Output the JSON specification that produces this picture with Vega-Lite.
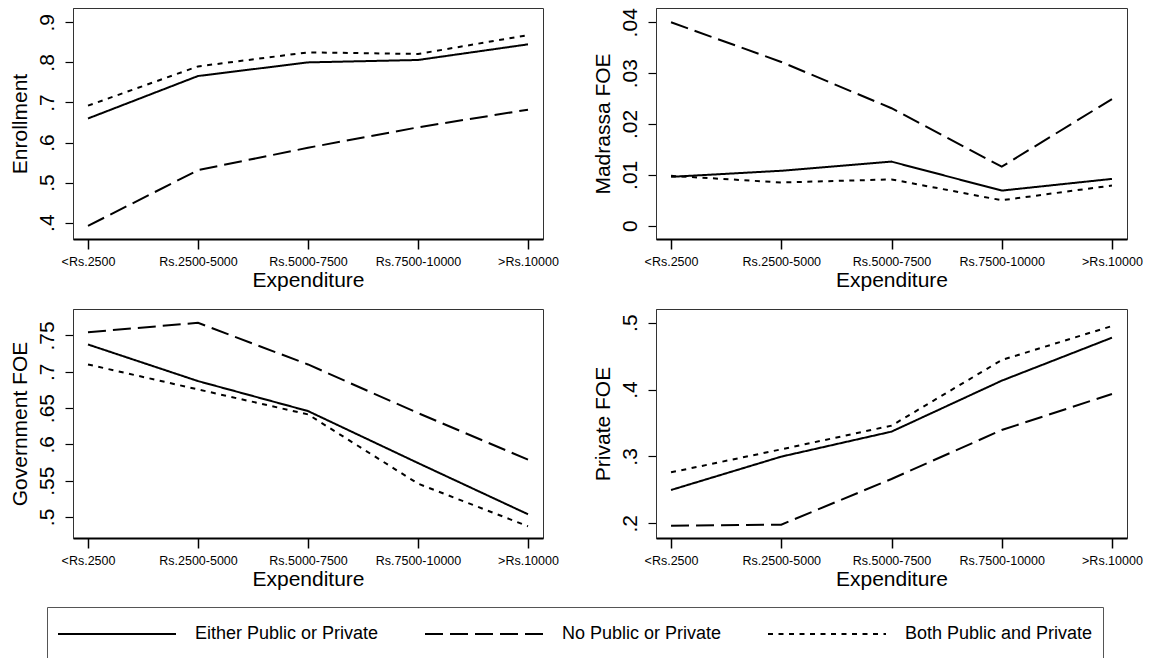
{
  "$schema": "https://vega.github.io/schema/vega-lite/v6.json",
  "background": "white",
  "padding": {"left": 8, "top": 7, "right": 5, "bottom": 0},
  "config": {
    "font": "Liberation Sans",
    "view": {"stroke": "#333333", "strokeWidth": 1},
    "axisX": {
      "labelFont": "Liberation Sans", "labelFontSize": 12.5, "labelColor": "black", "labelAngle": 0,
      "tickSize": 10, "tickWidth": 1.5, "tickColor": "black",
      "domainColor": "black", "domainWidth": 2,
      "labelPadding": 6, "titlePadding": 2,
      "titleFont": "Liberation Sans", "titleFontSize": 21, "titleFontWeight": "normal", "titleColor": "black",
      "grid": false
    },
    "axisY": {
      "labelFont": "Liberation Sans", "labelFontSize": 21, "labelColor": "black", "labelAngle": 270,
      "tickSize": 8, "tickWidth": 1.2, "tickColor": "black",
      "domainColor": "#333333", "domainWidth": 1,
      "labelPadding": 8, "titlePadding": 6,
      "titleFont": "Liberation Sans", "titleFontSize": 21, "titleFontWeight": "normal", "titleColor": "black",
      "grid": false
    }
  },
  "data": {"values": [
    {"m": "enr", "exp": "<Rs.2500", "g": "Either Public or Private", "v": 0.660},
    {"m": "enr", "exp": "Rs.2500-5000", "g": "Either Public or Private", "v": 0.766},
    {"m": "enr", "exp": "Rs.5000-7500", "g": "Either Public or Private", "v": 0.800},
    {"m": "enr", "exp": "Rs.7500-10000", "g": "Either Public or Private", "v": 0.806},
    {"m": "enr", "exp": ">Rs.10000", "g": "Either Public or Private", "v": 0.845},
    {"m": "enr", "exp": "<Rs.2500", "g": "No Public or Private", "v": 0.392},
    {"m": "enr", "exp": "Rs.2500-5000", "g": "No Public or Private", "v": 0.531},
    {"m": "enr", "exp": "Rs.5000-7500", "g": "No Public or Private", "v": 0.587},
    {"m": "enr", "exp": "Rs.7500-10000", "g": "No Public or Private", "v": 0.638},
    {"m": "enr", "exp": ">Rs.10000", "g": "No Public or Private", "v": 0.682},
    {"m": "enr", "exp": "<Rs.2500", "g": "Both Public and Private", "v": 0.692},
    {"m": "enr", "exp": "Rs.2500-5000", "g": "Both Public and Private", "v": 0.790},
    {"m": "enr", "exp": "Rs.5000-7500", "g": "Both Public and Private", "v": 0.825},
    {"m": "enr", "exp": "Rs.7500-10000", "g": "Both Public and Private", "v": 0.821},
    {"m": "enr", "exp": ">Rs.10000", "g": "Both Public and Private", "v": 0.868},

    {"m": "mad", "exp": "<Rs.2500", "g": "Either Public or Private", "v": 0.0096},
    {"m": "mad", "exp": "Rs.2500-5000", "g": "Either Public or Private", "v": 0.0108},
    {"m": "mad", "exp": "Rs.5000-7500", "g": "Either Public or Private", "v": 0.0126},
    {"m": "mad", "exp": "Rs.7500-10000", "g": "Either Public or Private", "v": 0.0069},
    {"m": "mad", "exp": ">Rs.10000", "g": "Either Public or Private", "v": 0.0092},
    {"m": "mad", "exp": "<Rs.2500", "g": "No Public or Private", "v": 0.0400},
    {"m": "mad", "exp": "Rs.2500-5000", "g": "No Public or Private", "v": 0.0322},
    {"m": "mad", "exp": "Rs.5000-7500", "g": "No Public or Private", "v": 0.0231},
    {"m": "mad", "exp": "Rs.7500-10000", "g": "No Public or Private", "v": 0.0116},
    {"m": "mad", "exp": ">Rs.10000", "g": "No Public or Private", "v": 0.0249},
    {"m": "mad", "exp": "<Rs.2500", "g": "Both Public and Private", "v": 0.0098},
    {"m": "mad", "exp": "Rs.2500-5000", "g": "Both Public and Private", "v": 0.0085},
    {"m": "mad", "exp": "Rs.5000-7500", "g": "Both Public and Private", "v": 0.0091},
    {"m": "mad", "exp": "Rs.7500-10000", "g": "Both Public and Private", "v": 0.0050},
    {"m": "mad", "exp": ">Rs.10000", "g": "Both Public and Private", "v": 0.0079},

    {"m": "gov", "exp": "<Rs.2500", "g": "Either Public or Private", "v": 0.7376},
    {"m": "gov", "exp": "Rs.2500-5000", "g": "Either Public or Private", "v": 0.6872},
    {"m": "gov", "exp": "Rs.5000-7500", "g": "Either Public or Private", "v": 0.6459},
    {"m": "gov", "exp": "Rs.7500-10000", "g": "Either Public or Private", "v": 0.5743},
    {"m": "gov", "exp": ">Rs.10000", "g": "Either Public or Private", "v": 0.5037},
    {"m": "gov", "exp": "<Rs.2500", "g": "No Public or Private", "v": 0.7546},
    {"m": "gov", "exp": "Rs.2500-5000", "g": "No Public or Private", "v": 0.7674},
    {"m": "gov", "exp": "Rs.5000-7500", "g": "No Public or Private", "v": 0.7101},
    {"m": "gov", "exp": "Rs.7500-10000", "g": "No Public or Private", "v": 0.6431},
    {"m": "gov", "exp": ">Rs.10000", "g": "No Public or Private", "v": 0.5789},
    {"m": "gov", "exp": "<Rs.2500", "g": "Both Public and Private", "v": 0.7101},
    {"m": "gov", "exp": "Rs.2500-5000", "g": "Both Public and Private", "v": 0.6757},
    {"m": "gov", "exp": "Rs.5000-7500", "g": "Both Public and Private", "v": 0.6413},
    {"m": "gov", "exp": "Rs.7500-10000", "g": "Both Public and Private", "v": 0.5459},
    {"m": "gov", "exp": ">Rs.10000", "g": "Both Public and Private", "v": 0.4872},

    {"m": "pri", "exp": "<Rs.2500", "g": "Either Public or Private", "v": 0.2498},
    {"m": "pri", "exp": "Rs.2500-5000", "g": "Either Public or Private", "v": 0.2997},
    {"m": "pri", "exp": "Rs.5000-7500", "g": "Either Public or Private", "v": 0.3371},
    {"m": "pri", "exp": "Rs.7500-10000", "g": "Either Public or Private", "v": 0.4133},
    {"m": "pri", "exp": ">Rs.10000", "g": "Either Public or Private", "v": 0.4776},
    {"m": "pri", "exp": "<Rs.2500", "g": "No Public or Private", "v": 0.1965},
    {"m": "pri", "exp": "Rs.2500-5000", "g": "No Public or Private", "v": 0.1980},
    {"m": "pri", "exp": "Rs.5000-7500", "g": "No Public or Private", "v": 0.2663},
    {"m": "pri", "exp": "Rs.7500-10000", "g": "No Public or Private", "v": 0.3395},
    {"m": "pri", "exp": ">Rs.10000", "g": "No Public or Private", "v": 0.3934},
    {"m": "pri", "exp": "<Rs.2500", "g": "Both Public and Private", "v": 0.2762},
    {"m": "pri", "exp": "Rs.2500-5000", "g": "Both Public and Private", "v": 0.3106},
    {"m": "pri", "exp": "Rs.5000-7500", "g": "Both Public and Private", "v": 0.3460},
    {"m": "pri", "exp": "Rs.7500-10000", "g": "Both Public and Private", "v": 0.4442},
    {"m": "pri", "exp": ">Rs.10000", "g": "Both Public and Private", "v": 0.4950}
  ]},
  "columns": 2,
  "bounds": "flush",
  "spacing": {"row": 70, "column": 113},
  "concat": [
    {
      "width": 470, "height": 231,
      "transform": [{"filter": "datum.m == 'enr'"}],
      "mark": {"type": "line", "strokeWidth": 2, "color": "black"},
      "encoding": {
        "x": {"field": "exp", "type": "ordinal", "title": "Expenditure",
              "scale": {"type": "point", "padding": 0.1364, "domain": ["<Rs.2500", "Rs.2500-5000", "Rs.5000-7500", "Rs.7500-10000", ">Rs.10000"]}},
        "y": {"field": "v", "type": "quantitative", "title": "Enrollment",
              "scale": {"domain": [0.3593, 0.9357], "nice": false, "zero": false},
              "axis": {"values": [0.4, 0.5, 0.6, 0.7, 0.8, 0.9], "labelExpr": "substring(format(datum.value, '.1f'), 1)"}},
        "strokeDash": {"field": "g", "type": "nominal",
              "scale": {"domain": ["Either Public or Private", "No Public or Private", "Both Public and Private"], "range": [[1, 0], [18, 7], [5, 5.5]]},
              "legend": {"orient": "none", "legendX": -26, "legendY": 599, "direction": "horizontal", "columns": 3, "title": null,
                         "symbolType": "stroke", "symbolSize": 13924, "symbolStrokeWidth": 2, "symbolStrokeColor": "black",
                         "clipHeight": 34, "padding": 10, "strokeColor": "#555555", "fillColor": "white",
                         "labelFont": "Liberation Sans", "labelFontSize": 18, "labelColor": "black", "labelOffset": 18,
                         "columnPadding": 45, "labelLimit": 400, "gridAlign": "each"}}
      }
    },
    {
      "width": 471, "height": 231,
      "transform": [{"filter": "datum.m == 'mad'"}],
      "mark": {"type": "line", "strokeWidth": 2, "color": "black"},
      "encoding": {
        "x": {"field": "exp", "type": "ordinal", "title": "Expenditure",
              "scale": {"type": "point", "padding": 0.1364, "domain": ["<Rs.2500", "Rs.2500-5000", "Rs.5000-7500", "Rs.7500-10000", ">Rs.10000"]}},
        "y": {"field": "v", "type": "quantitative", "title": "Madrassa FOE",
              "scale": {"domain": [-0.00262, 0.04281], "nice": false, "zero": false},
              "axis": {"values": [0, 0.01, 0.02, 0.03, 0.04], "labelExpr": "datum.value == 0 ? '0' : substring(format(datum.value, '.2f'), 1)"}},
        "strokeDash": {"field": "g", "type": "nominal",
              "scale": {"domain": ["Either Public or Private", "No Public or Private", "Both Public and Private"], "range": [[1, 0], [18, 7], [5, 5.5]]},
              "legend": {"orient": "none", "legendX": -26, "legendY": 599, "direction": "horizontal", "columns": 3, "title": null,
                         "symbolType": "stroke", "symbolSize": 13924, "symbolStrokeWidth": 2, "symbolStrokeColor": "black",
                         "clipHeight": 34, "padding": 10, "strokeColor": "#555555", "fillColor": "white",
                         "labelFont": "Liberation Sans", "labelFontSize": 18, "labelColor": "black", "labelOffset": 18,
                         "columnPadding": 45, "labelLimit": 400, "gridAlign": "each"}}
      }
    },
    {
      "width": 470, "height": 229,
      "transform": [{"filter": "datum.m == 'gov'"}],
      "mark": {"type": "line", "strokeWidth": 2, "color": "black"},
      "encoding": {
        "x": {"field": "exp", "type": "ordinal", "title": "Expenditure",
              "scale": {"type": "point", "padding": 0.1364, "domain": ["<Rs.2500", "Rs.2500-5000", "Rs.5000-7500", "Rs.7500-10000", ">Rs.10000"]}},
        "y": {"field": "v", "type": "quantitative", "title": "Government FOE",
              "scale": {"domain": [0.471, 0.7865], "nice": false, "zero": false},
              "axis": {"values": [0.5, 0.55, 0.6, 0.65, 0.7, 0.75], "labelExpr": "substring(format(datum.value, '.2~f'), 1)"}},
        "strokeDash": {"field": "g", "type": "nominal",
              "scale": {"domain": ["Either Public or Private", "No Public or Private", "Both Public and Private"], "range": [[1, 0], [18, 7], [5, 5.5]]},
              "legend": {"orient": "none", "legendX": -26, "legendY": 599, "direction": "horizontal", "columns": 3, "title": null,
                         "symbolType": "stroke", "symbolSize": 13924, "symbolStrokeWidth": 2, "symbolStrokeColor": "black",
                         "clipHeight": 34, "padding": 10, "strokeColor": "#555555", "fillColor": "white",
                         "labelFont": "Liberation Sans", "labelFontSize": 18, "labelColor": "black", "labelOffset": 18,
                         "columnPadding": 45, "labelLimit": 400, "gridAlign": "each"}}
      }
    },
    {
      "width": 471, "height": 229,
      "transform": [{"filter": "datum.m == 'pri'"}],
      "mark": {"type": "line", "strokeWidth": 2, "color": "black"},
      "encoding": {
        "x": {"field": "exp", "type": "ordinal", "title": "Expenditure",
              "scale": {"type": "point", "padding": 0.1364, "domain": ["<Rs.2500", "Rs.2500-5000", "Rs.5000-7500", "Rs.7500-10000", ">Rs.10000"]}},
        "y": {"field": "v", "type": "quantitative", "title": "Private FOE",
              "scale": {"domain": [0.178, 0.5205], "nice": false, "zero": false},
              "axis": {"values": [0.2, 0.3, 0.4, 0.5], "labelExpr": "substring(format(datum.value, '.1f'), 1)"}},
        "strokeDash": {"field": "g", "type": "nominal",
              "scale": {"domain": ["Either Public or Private", "No Public or Private", "Both Public and Private"], "range": [[1, 0], [18, 7], [5, 5.5]]},
              "legend": {"orient": "none", "legendX": -26, "legendY": 599, "direction": "horizontal", "columns": 3, "title": null,
                         "symbolType": "stroke", "symbolSize": 13924, "symbolStrokeWidth": 2, "symbolStrokeColor": "black",
                         "clipHeight": 34, "padding": 10, "strokeColor": "#555555", "fillColor": "white",
                         "labelFont": "Liberation Sans", "labelFontSize": 18, "labelColor": "black", "labelOffset": 18,
                         "columnPadding": 45, "labelLimit": 400, "gridAlign": "each"}}
      }
    }
  ]
}
